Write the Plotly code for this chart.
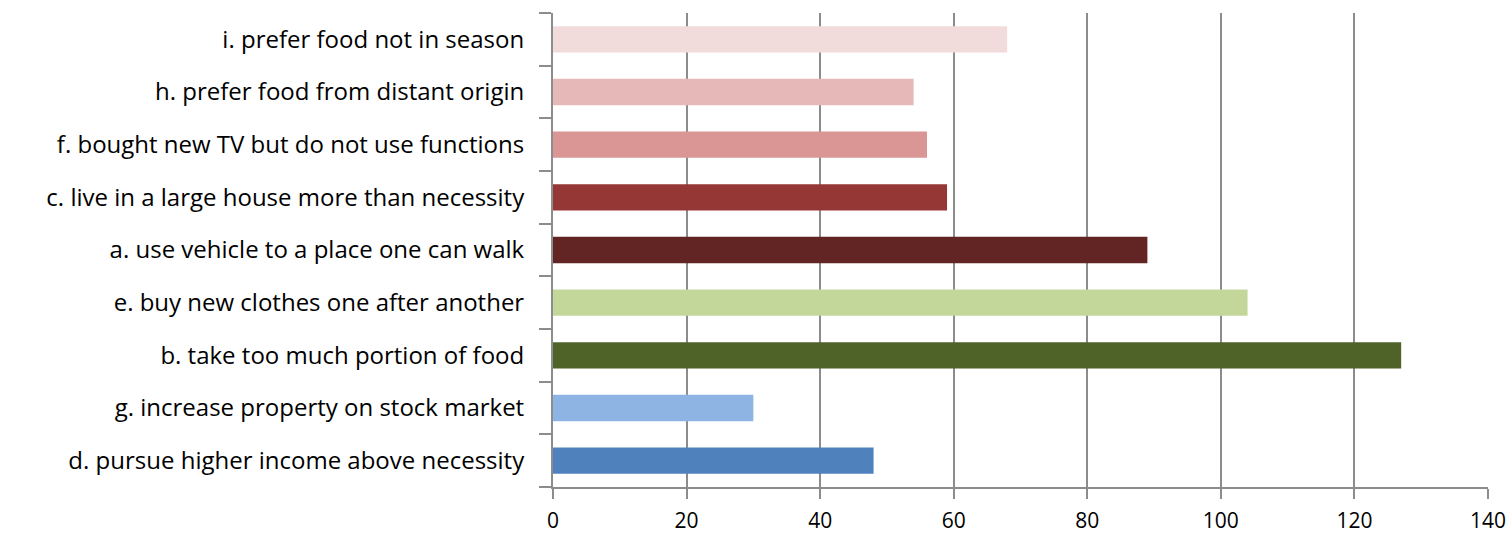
import plotly.graph_objects as go

categories = [
    "d. pursue higher income above necessity",
    "g. increase property on stock market",
    "b. take too much portion of food",
    "e. buy new clothes one after another",
    "a. use vehicle to a place one can walk",
    "c. live in a large house more than necessity",
    "f. bought new TV but do not use functions",
    "h. prefer food from distant origin",
    "i. prefer food not in season",
]
values = [48, 30, 127, 104, 89, 59, 56, 54, 68]
colors = ["#4F81BD", "#8EB4E3", "#4F6228", "#C4D79B", "#632523",
          "#953735", "#D99694", "#E6B9B8", "#F2DCDB"]
x_ticks = [0, 20, 40, 60, 80, 100, 120, 140]

font_family = "'Open Sans', 'Noto Sans', sans-serif"

fig = go.Figure(go.Bar(
    x=values, y=categories, orientation="h",
    marker=dict(color=colors, line=dict(width=0)),
))

fig.update_layout(
    width=1512, height=535,
    margin=dict(l=553, r=24, t=13, b=48),
    paper_bgcolor="white", plot_bgcolor="white",
    bargap=0.5,
    showlegend=False,
    font=dict(family=font_family, size=24, color="#000000"),
)
fig.update_xaxes(
    range=[0, 140], tickvals=x_ticks, ticktext=[str(v) for v in x_ticks],
    showgrid=True, gridcolor="#8C8C8C", gridwidth=2,
    zeroline=False, showline=True, linecolor="#8C8C8C", linewidth=2,
    ticks="outside", ticklen=10, tickwidth=2, tickcolor="#8C8C8C",
    ticklabelstandoff=4, automargin=False,
    tickfont=dict(size=21, family=font_family, color="#000000"),
    fixedrange=True,
)
fig.update_yaxes(
    type="category", categoryorder="array", categoryarray=categories,
    showgrid=False, zeroline=False, showline=True, linecolor="#8C8C8C", linewidth=2,
    ticks="outside", tickson="boundaries", ticklen=12, tickwidth=2, tickcolor="#8C8C8C",
    ticklabelstandoff=22, automargin=False,
    tickfont=dict(size=24, family=font_family, color="#000000"),
    fixedrange=True,
)

fig.write_html("out.html")
